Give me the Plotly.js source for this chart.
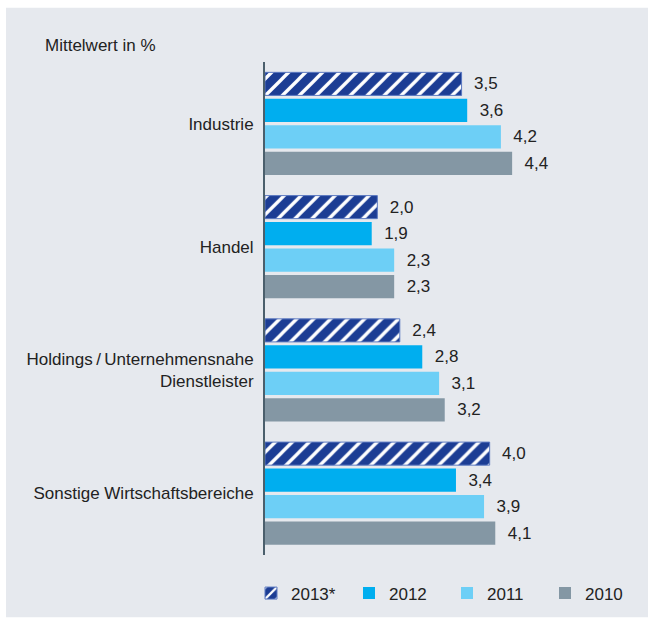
<!DOCTYPE html>
<html>
<head>
<meta charset="utf-8">
<script src="https://cdn.plot.ly/plotly-3.0.1.min.js"></script>
<style>
html,body{margin:0;padding:0;background:#fff;}
#chart{width:649px;height:624px;}
</style>
</head>
<body>
<div id="chart"></div>
<script>
const categories = ["Industrie", "Handel", "Holdings\u2009/\u2009Unternehmensnahe<br>Dienstleister", "Sonstige Wirtschaftsbereiche"];
const seriesNames = ["2013*", "2012", "2011", "2010"];
const values2013 = [3.5, 2.0, 2.4, 4.0];
const values2012 = [3.6, 1.9, 2.8, 3.4];
const values2011 = [4.2, 2.3, 3.1, 3.9];
const values2010 = [4.4, 2.3, 3.2, 4.1];
const axisTitle = "Mittelwert in %";

const allValues = [values2013, values2012, values2011, values2010];
const colors = ["#1c3d94", "#00aeef", "#6dcff6", "#8497a4"];
const FONT = "Liberation Sans, Arial, Helvetica, sans-serif";
const TXT = "#222222";

const traces = allValues.map((vals, i) => {
  const t = {
    type: "bar",
    orientation: "h",
    name: seriesNames[i],
    x: vals,
    y: categories,
    marker: { color: colors[i], line: { width: 0 } },
    texttemplate: "\u00a0\u00a0%{x:.1f}",
    textposition: "outside",
    textfont: { family: FONT, size: 17, color: TXT },
    cliponaxis: false,
    hoverinfo: "skip"
  };
  if (i === 0) {
    t.marker = {
      color: colors[0],
      line: { color: "#5a78c0", width: 1 },
      pattern: { shape: "/", bgcolor: colors[0], fgcolor: "#ffffff", size: 12, solidity: 0.28, fillmode: "replace" }
    };
  }
  return t;
});

// plot area geometry in pixels
const L = 265, R = 47, T = 62, B = 63, W = 649, H = 624;
const pw = W - L - R, ph = H - T - B;
const px = x => (x - L) / pw;
const py = y => (H - B - y) / ph;

const layout = {
  width: W, height: H,
  margin: { l: L, r: R, t: T, b: B, pad: 0 },
  paper_bgcolor: "#ffffff",
  plot_bgcolor: "rgba(0,0,0,0)",
  separators: ",.",
  barmode: "group",
  bargap: 0.14,
  bargroupgap: 0.13,
  font: { family: FONT, size: 17, color: TXT },
  showlegend: true,
  legend: {
    orientation: "h",
    x: px(251), xanchor: "left",
    y: py(600), yanchor: "middle",
    entrywidth: 53, entrywidthmode: "pixels",
    font: { family: FONT, size: 17, color: TXT },
    bgcolor: "rgba(0,0,0,0)",
    traceorder: "normal"
  },
  xaxis: {
    range: [0, 6],
    visible: false,
    showgrid: false,
    zeroline: false,
    fixedrange: true
  },
  yaxis: {
    autorange: "reversed",
    showline: true,
    linecolor: "#4b5f6c",
    linewidth: 2,
    ticks: "",
    ticklabelstandoff: 6,
    showgrid: false,
    zeroline: false,
    tickfont: { family: FONT, size: 17, color: TXT },
    fixedrange: true
  },
  shapes: [{
    type: "rect", xref: "paper", yref: "paper", layer: "below",
    x0: px(6), x1: px(648), y0: py(624), y1: py(7),
    fillcolor: "#e6e9ee", line: { width: 0 }
  }],
  annotations: [{
    text: axisTitle, xref: "paper", yref: "paper",
    x: px(43), y: py(45), xanchor: "left", yanchor: "middle",
    showarrow: false, font: { family: FONT, size: 17, color: TXT }
  }]
};

Plotly.newPlot("chart", traces, layout, { displayModeBar: false, staticPlot: true });
</script>
</body>
</html>
